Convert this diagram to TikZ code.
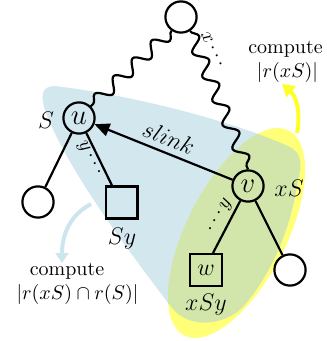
\documentclass[tikz,border=0pt]{standalone}
\usetikzlibrary{decorations.pathmorphing,arrows.meta}
\definecolor{ylw}{RGB}{255,255,120}
\definecolor{ylwarrow}{RGB}{255,255,40}
\definecolor{blu}{RGB}{167,207,224}
\definecolor{bluarrow}{RGB}{205,229,239}
\begin{document}
\begin{tikzpicture}[x=0.5pt,y=-0.5pt,
  vert/.style={circle,draw,line width=1.1pt,minimum size=15.6pt,inner sep=0pt},
  leafbox/.style={rectangle,draw,line width=1.1pt,minimum size=15.9pt,inner sep=0pt},
  edge/.style={line width=1.1pt},
  wavy/.style={line width=1.1pt,decorate,decoration={snake,segment length=13pt,amplitude=3.2pt}},
  lbl/.style={inner sep=0pt,font=\large},
  small/.style={inner sep=0pt}]
\useasboundingbox (0,0) rectangle (326,341);
% regions
\begin{scope}[shift={(236.5,233)},rotate=63]
  \fill[ylw] (0,0) ellipse [x radius=57.5pt, y radius=25pt];
\end{scope}
\fill[blu,fill opacity=0.5] (55,86) .. controls (130,95) and (230,120) .. (288,146)
  .. controls (303,153) and (302,165) .. (298,180)
  .. controls (292,222) and (275,270) .. (243,307)
  .. controls (225,325) and (190,330) .. (172,308)
  .. controls (120,240) and (65,165) .. (45,110)
  .. controls (40,95) and (42,86) .. (55,86) -- cycle;
% compute arrows
\coordinate (ya0) at (297,133);
\coordinate (ya1) at (282,84);
\draw[ylwarrow,line width=2pt,-{Triangle[length=6pt,width=7pt]}] (ya0) .. controls (301,112) and (296,96) .. (ya1);
\coordinate (ba0) at (91,204);
\coordinate (ba1) at (62,263);
\draw[bluarrow,line width=2pt,-{Triangle[length=5pt,width=6.5pt]}] (ba0) .. controls (72,214) and (62,232) .. (ba1);
% nodes
\node[vert] (root) at (181,17) {};
\node[vert,font=\Large] (u) at (79,118) {$u$};
\node[vert,font=\Large] (v) at (248,186) {$v$};
\node[vert] (leafL) at (38,202) {};
\node[vert] (leafR) at (290,270) {};
\node[leafbox] (Sy) at (121.5,202.5) {};
\node[leafbox,font=\large] (w) at (206,270) {$w$};
% edges
\draw[edge] (u) -- (leafL);
\draw[edge] (u) -- ([xshift=-4.75pt]Sy.north);
\draw[edge] (v) -- ([xshift=3.5pt]w.north);
\draw[edge] (v) -- (leafR);
\draw[edge,-{Triangle[length=7.5pt,width=6.5pt]}] (v) -- (u);
\draw[wavy] (root.-125) -- (u.45);
\draw[wavy] (root.-57) -- (v.north);
% labels
\node[lbl] (Slbl) at (46,120.5) {$S$};
\node[lbl] (xSlbl) at (289,188.5) {$xS$};
\node[lbl] (Sylbl) at (122,238.5) {$Sy$};
\node[lbl] (xSylbl) at (206,305) {$xSy$};
\node[lbl,rotate=-21.9] (slinklbl) at (169,138) {$slink$};
\node[small,rotate=-64] (xdots) at (213,49.5) {$x\cdots$};
\node[small,rotate=-62] (ydotsu) at (89.5,159) {$y\cdots$};
\node[small,rotate=61] (ydotsv) at (220,216) {$\cdots y$};
\node[small] (cTop) at (285.5,49.5) {compute};
\node[small] (fTop) at (287.5,72.5) {$|r(xS)|$};
\node[small] (cBot) at (67,271.5) {compute};
\node[small] (fBot) at (77.5,294) {$|r(xS)\cap r(S)|$};
\end{tikzpicture}
\end{document}
